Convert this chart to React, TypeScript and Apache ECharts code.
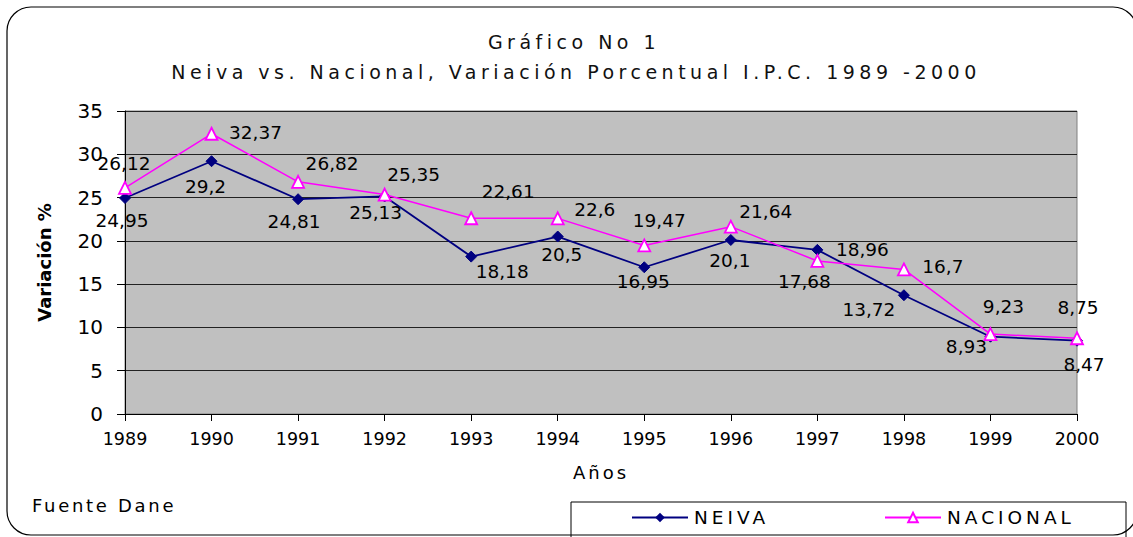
import React, { useEffect, useRef } from "react";
import * as echarts from "echarts";

const years = ["1989", "1990", "1991", "1992", "1993", "1994", "1995", "1996", "1997", "1998", "1999", "2000"];
const neiva = [24.95, 29.2, 24.81, 25.13, 18.18, 20.5, 16.95, 20.1, 18.96, 13.72, 8.93, 8.47];
const nacional = [26.12, 32.37, 26.82, 25.35, 22.61, 22.6, 19.47, 21.64, 17.68, 16.7, 9.23, 8.75];
const yTicks = { min: 0, max: 35, interval: 5 };

const titleLine1 = "Gráfico No 1";
const titleLine2 = "Neiva vs. Nacional, Variación Porcentual I.P.C. 1989 -2000";
const yName = "Variación %";
const xName = "Años";
const source = "Fuente Dane";

// label offsets (pixels, relative to the point)
const neivaLabelOffsets = [[-3, 22], [-6, 25], [-4, 22], [-9, 16], [31, 15], [4, 18], [-1, 14], [-1, 21], [45, 0], [-35, 14], [-24, 10], [7, 24]];
const nacionalLabelOffsets = [[-1, -24], [44, -1], [34, -18], [29, -20], [37, -27], [37, -9], [15, -25], [35, -15], [-13, 21], [39, -3], [13, -28], [1, -31]];

const FONT = "'DejaVu Sans', sans-serif";

const spacing: Record<string, number> = {
  [titleLine1]: 4.5,
  [titleLine2]: 4.5,
  NEIVA: 4,
  NACIONAL: 4,
  [xName]: 3,
  [source]: 2.7,
};

const fmt = (v: number) => String(v).replace(".", ",");

export default function App() {
  const ref = useRef<HTMLDivElement>(null);
  useEffect(() => {
    const el = ref.current!;
    const chart = echarts.init(el, null, { renderer: "svg" });

    const mkData = (vals: number[], offs: number[][]) =>
      vals.map((v, i) => ({
        value: v,
        label: { offset: offs[i] },
      }));

    const labelBase = {
      show: true,
      position: "inside",
      align: "center",
      verticalAlign: "middle",
      color: "#000",
      fontFamily: FONT,
      fontSize: 18.5,
      formatter: (p: any) => fmt(p.value),
    };

    chart.setOption({
      animation: false,
      backgroundColor: "#fff",
      grid: {
        left: 125,
        right: 56,
        top: 111,
        bottom: 123,
        show: true,
        backgroundColor: "#c0c0c0",
        borderColor: "#808080",
        borderWidth: 1,
      },
      xAxis: {
        type: "category",
        data: years,
        boundaryGap: false,
        name: xName,
        nameLocation: "middle",
        nameGap: 49,
        nameTextStyle: { fontFamily: FONT, fontSize: 18, color: "#000" },
        axisLine: { lineStyle: { color: "#000", width: 1 } },
        axisTick: { show: true, length: 7, lineStyle: { color: "#000" } },
        axisLabel: { fontFamily: FONT, fontSize: 17.5, color: "#000", margin: 16, interval: 0 },
        splitLine: { show: false },
      },
      yAxis: {
        type: "value",
        min: yTicks.min,
        max: yTicks.max,
        interval: yTicks.interval,
        name: yName,
        nameLocation: "middle",
        nameGap: 72,
        nameTextStyle: { fontFamily: FONT, fontSize: 18, fontWeight: "bold", color: "#000" },
        axisLine: { show: true, lineStyle: { color: "#000", width: 1 } },
        axisTick: { show: true, length: 8, lineStyle: { color: "#000" } },
        axisLabel: { fontFamily: FONT, fontSize: 20, color: "#000", margin: 22 },
        splitLine: { show: true, lineStyle: { color: "#222", width: 1 } },
      },
      legend: [
        {
          data: ["NEIVA"],
          left: 631,
          top: 508,
          padding: 0,
          itemWidth: 56,
          itemHeight: 12,
          itemGap: 0,
          textStyle: { fontFamily: FONT, fontSize: 18.5, color: "#000", padding: [0, 0, 0, 1] },
        },
        {
          data: ["NACIONAL"],
          left: 884,
          top: 508,
          padding: 0,
          itemWidth: 56,
          itemHeight: 12,
          itemGap: 0,
          textStyle: { fontFamily: FONT, fontSize: 18.5, color: "#000", padding: [0, 0, 0, 1] },
        },
      ],
      graphic: [
        {
          type: "rect",
          shape: { x: 7, y: 7, width: 1130, height: 528, r: 24 },
          style: { fill: "none", stroke: "#000", lineWidth: 1.2 },
          silent: true,
        },
        {
          type: "rect",
          shape: { x: 571, y: 502, width: 555, height: 60 },
          style: { fill: "#fff", stroke: "#000", lineWidth: 1 },
          silent: true,
          z: -1,
        },
        {
          type: "text",
          x: 574,
          y: 42,
          style: { text: titleLine1, font: `19px ${FONT}`, fill: "#111", align: "center", verticalAlign: "middle" },
        },
        {
          type: "text",
          x: 576,
          y: 72,
          style: { text: titleLine2, font: `19px ${FONT}`, fill: "#111", align: "center", verticalAlign: "middle" },
        },
        {
          type: "text",
          x: 32,
          y: 505,
          style: { text: source, font: `18px ${FONT}`, fill: "#000", align: "left", verticalAlign: "middle" },
        },
      ],
      series: [
        {
          name: "NEIVA",
          type: "line",
          data: mkData(neiva, neivaLabelOffsets),
          symbol: "diamond",
          symbolSize: 11,
          itemStyle: { color: "#000080", borderColor: "#000080" },
          lineStyle: { color: "#000080", width: 1.8 },
          label: labelBase,
          z: 2,
        },
        {
          name: "NACIONAL",
          type: "line",
          data: mkData(nacional, nacionalLabelOffsets),
          symbol: "triangle",
          symbolSize: 12,
          itemStyle: { color: "#ffffff", borderColor: "#ff00ff", borderWidth: 1.8 },
          lineStyle: { color: "#ff00ff", width: 1.5 },
          label: labelBase,
          z: 3,
        },
      ],
    });

    const applySpacing = () => {
      el.querySelectorAll("text").forEach((t) => {
        const k = t.textContent || "";
        if (spacing[k] != null) t.setAttribute("letter-spacing", String(spacing[k]));
      });
    };
    applySpacing();
    chart.on("finished", applySpacing);
    const raf = requestAnimationFrame(applySpacing);
    const to = setTimeout(applySpacing, 50);

    return () => {
      cancelAnimationFrame(raf);
      clearTimeout(to);
      chart.dispose();
    };
  }, []);

  return (
    <div
      ref={ref}
      style={{ position: "absolute", left: 0, top: 0, width: 1133, height: 537 }}
    />
  );
}
